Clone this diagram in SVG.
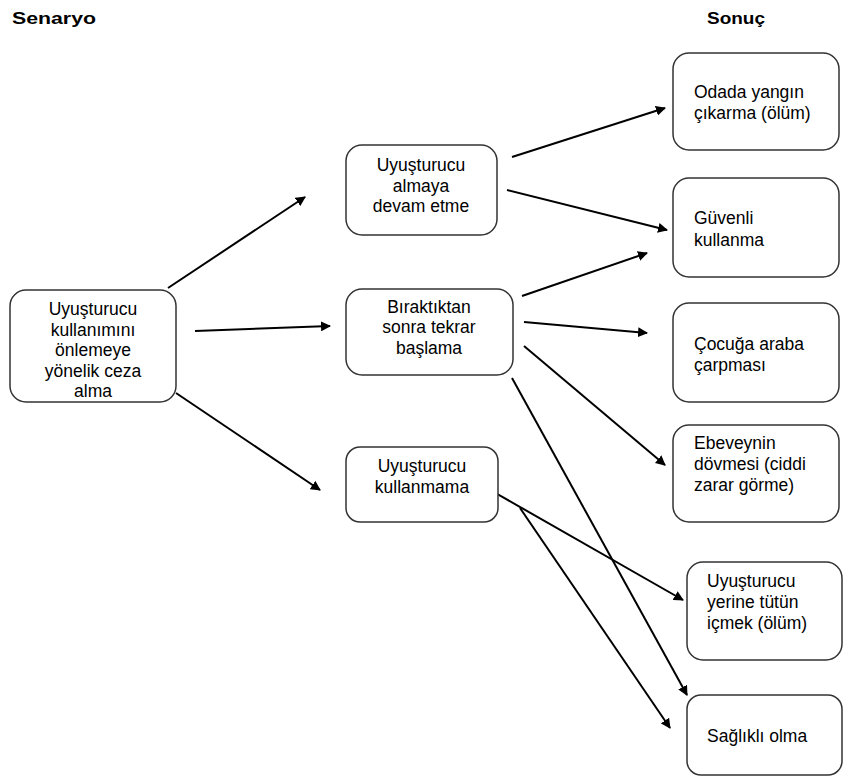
<svg xmlns="http://www.w3.org/2000/svg" width="845" height="778" viewBox="0 0 845 778">
<defs>
<marker id="ah" viewBox="0 0 10 10" refX="9" refY="5" markerWidth="10" markerHeight="10" markerUnits="userSpaceOnUse" orient="auto">
<path d="M0,0 L10,5 L0,10 z" fill="#000"/>
</marker>
<style>
.box{fill:#fff;stroke:#333;stroke-width:1.5}
.t{font-family:"Liberation Sans",Arial,sans-serif;font-size:17.5px;fill:#000}
.c{text-anchor:middle}
.h{font-family:"Liberation Sans",Arial,sans-serif;font-size:17px;font-weight:bold;fill:#000}
.ln{stroke:#000;stroke-width:2;fill:none;marker-end:url(#ah)}
</style>
</defs>
<rect width="845" height="778" fill="#fff"/>
<text class="h" x="12" y="24" textLength="84" lengthAdjust="spacingAndGlyphs">Senaryo</text>
<text class="h" x="707" y="24" textLength="58" lengthAdjust="spacingAndGlyphs">Sonuç</text>

<g id="connectors">
<line class="ln" x1="168" y1="288" x2="305" y2="197"/>
<line class="ln" x1="195" y1="331" x2="330" y2="326"/>
<line class="ln" x1="176" y1="393" x2="320" y2="490"/>
<line class="ln" x1="512" y1="157" x2="665" y2="108"/>
<line class="ln" x1="507" y1="190" x2="667" y2="230"/>
<line class="ln" x1="522" y1="296" x2="647" y2="253"/>
<line class="ln" x1="524" y1="322" x2="647" y2="333"/>
<line class="ln" x1="524" y1="346" x2="665" y2="465"/>
<line class="ln" x1="512" y1="378" x2="687" y2="695"/>
<line class="ln" x1="492" y1="491" x2="683" y2="600"/>
<line class="ln" x1="520" y1="508" x2="670" y2="728"/>
</g>

<g id="n0">
<rect class="box" x="10" y="290" width="166" height="112" rx="16"/>
<text class="t c" x="93" y="315">Uyuşturucu</text>
<text class="t c" x="93" y="336">kullanımını</text>
<text class="t c" x="93" y="356">önlemeye</text>
<text class="t c" x="93" y="377">yönelik ceza</text>
<text class="t c" x="93" y="397">alma</text>
</g>
<g id="n1">
<rect class="box" x="346" y="145" width="151" height="90" rx="16"/>
<text class="t c" x="421" y="171">Uyuşturucu</text>
<text class="t c" x="421" y="192">almaya</text>
<text class="t c" x="421" y="212">devam etme</text>
</g>
<g id="n2">
<rect class="box" x="346" y="289" width="167" height="86" rx="16"/>
<text class="t c" x="429" y="313">Bıraktıktan</text>
<text class="t c" x="429" y="333">sonra tekrar</text>
<text class="t c" x="429" y="354">başlama</text>
</g>
<g id="n3">
<rect class="box" x="346" y="447" width="152" height="75" rx="14"/>
<text class="t c" x="422" y="472">Uyuşturucu</text>
<text class="t c" x="422" y="493">kullanmama</text>
</g>
<g id="r1">
<rect class="box" x="673" y="53" width="166" height="97" rx="16"/>
<text class="t" x="694" y="98">Odada yangın</text>
<text class="t" x="694" y="119">çıkarma (ölüm)</text>
</g>
<g id="r2">
<rect class="box" x="673" y="178" width="166" height="99" rx="16"/>
<text class="t" x="694" y="224">Güvenli</text>
<text class="t" x="694" y="246">kullanma</text>
</g>
<g id="r3">
<rect class="box" x="673" y="303" width="166" height="99" rx="16"/>
<text class="t" x="694" y="350">Çocuğa araba</text>
<text class="t" x="694" y="371">çarpması</text>
</g>
<g id="r4">
<rect class="box" x="673" y="425" width="166" height="97" rx="16"/>
<text class="t" x="694" y="449">Ebeveynin</text>
<text class="t" x="694" y="470">dövmesi (ciddi</text>
<text class="t" x="694" y="491">zarar görme)</text>
</g>
<g id="r5">
<rect class="box" x="687" y="562" width="155" height="98" rx="16"/>
<text class="t" x="707" y="587">Uyuşturucu</text>
<text class="t" x="707" y="608">yerine tütün</text>
<text class="t" x="707" y="629">içmek (ölüm)</text>
</g>
<g id="r6">
<rect class="box" x="687" y="695" width="155" height="80" rx="14"/>
<text class="t" x="707" y="742">Sağlıklı olma</text>
</g>
</svg>
